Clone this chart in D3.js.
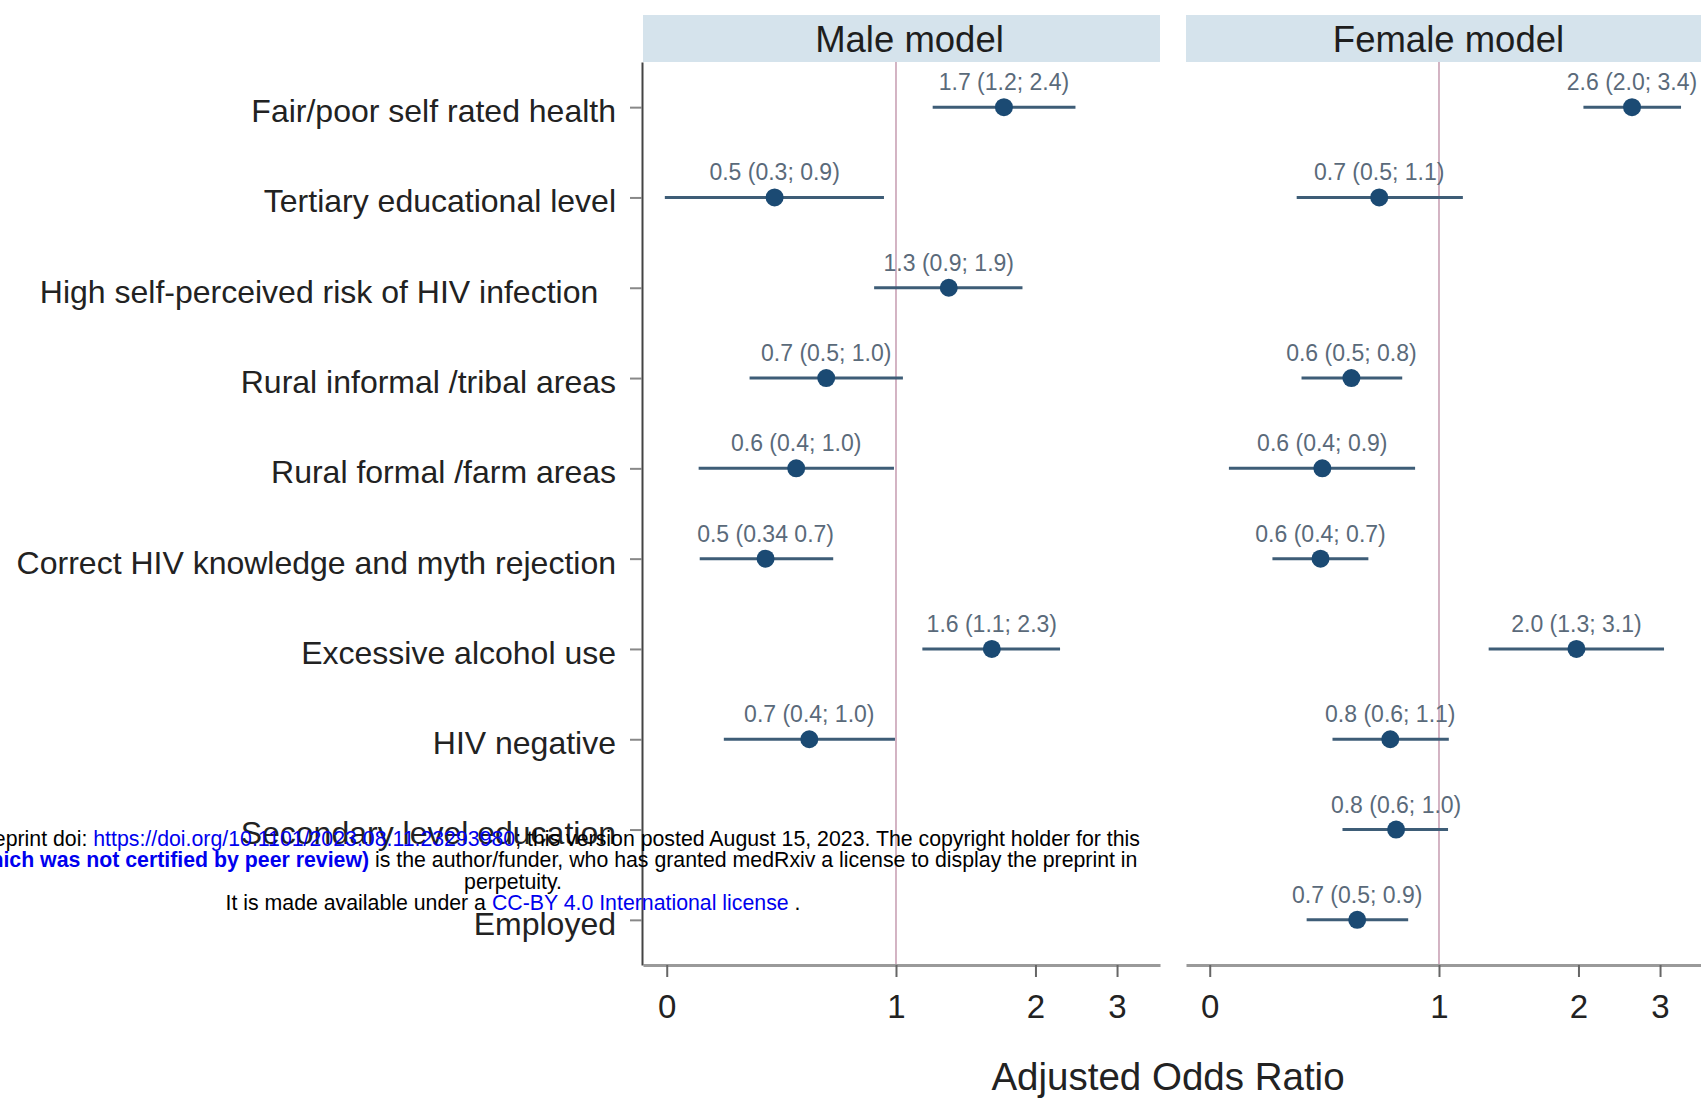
<!DOCTYPE html>
<html>
<head>
<meta charset="utf-8">
<script src="https://cdn.jsdelivr.net/npm/d3@7"></script>
<style>
  body { margin: 0; background: #fff; }
  svg { display: block; }
  text { font-family: "Liberation Sans", Arial, sans-serif; }
</style>
</head>
<body>
<div id="main"></div>
<script>
// rows, top to bottom
const categories = [
  "Fair/poor self rated health",
  "Tertiary educational level",
  "High self-perceived risk of HIV infection  ",
  "Rural informal /tribal areas",
  "Rural formal /farm areas",
  "Correct HIV knowledge and myth rejection",
  "Excessive alcohol use",
  "HIV negative",
  "Secondary level education",
  "Employed"
];

// male model (null = not in model)
const maleEst = [1.71, 0.547, 1.30, 0.707, 0.609, 0.523, 1.61, 0.65, null, null];
const maleLo  = [1.20, 0.317, 0.897, 0.483, 0.375, 0.377, 1.14, 0.425, null, null];
const maleHi  = [2.44, 0.942, 1.875, 1.035, 0.99, 0.732, 2.26, 0.995, null, null];
const maleLabels = ["1.7 (1.2; 2.4)", "0.5 (0.3; 0.9)", "1.3 (0.9; 1.9)", "0.7 (0.5; 1.0)",
  "0.6 (0.4; 1.0)", "0.5 (0.34 0.7)", "1.6 (1.1; 2.3)", "0.7 (0.4; 1.0)", null, null];

// female model
const femaleEst = [2.61, 0.743, null, 0.647, 0.56, 0.555, 1.98, 0.785, 0.808, 0.666];
const femaleLo  = [2.05, 0.493, null, 0.505, 0.352, 0.437, 1.28, 0.589, 0.619, 0.518];
const femaleHi  = [3.33, 1.126, null, 0.833, 0.888, 0.704, 3.06, 1.05, 1.046, 0.858];
const femaleLabels = ["2.6 (2.0; 3.4)", "0.7 (0.5; 1.1)", null, "0.6 (0.5; 0.8)",
  "0.6 (0.4; 0.9)", "0.6 (0.4; 0.7)", "2.0 (1.3; 3.1)", "0.8 (0.6; 1.1)", "0.8 (0.6; 1.0)", "0.7 (0.5; 0.9)"];

const panelNames = ["Male model", "Female model"];
const xTicks = [0.32, 1, 2, 3];
const xDomain = [0.2844, 3.714];

const watermark = [
  [{t: "medRxiv preprint doi: ", c: "#000"}, {t: "https://doi.org/10.1101/2023.08.11.23293980", c: "#0000ee"},
   {t: "; this version posted August 15, 2023. The copyright holder for this", c: "#000"}],
  [{t: "preprint ", c: "#000"}, {t: "(which was not certified by peer review)", c: "#0000ee", b: true},
   {t: " is the author/funder, who has granted medRxiv a license to display the preprint in", c: "#000"}],
  [{t: "perpetuity.", c: "#000"}],
  [{t: "It is made available under a ", c: "#000"}, {t: "CC-BY 4.0 International license", c: "#0000ee"}, {t: " .", c: "#000"}]
];

const width = 1701, height = 1101;
const plotTop = 62, plotBottom = 965, panelW = 517;
const panelX = [643, 1186];

const svg = d3.select("#main").append("svg").attr("width", width).attr("height", height);

const y = d3.scalePoint().domain(categories).range([plotTop, plotBottom]).padding(0.5);

const panels = [
  {name: panelNames[0], est: maleEst, lo: maleLo, hi: maleHi, labels: maleLabels, dx: 8},
  {name: panelNames[1], est: femaleEst, lo: femaleLo, hi: femaleHi, labels: femaleLabels, dx: 4}
];

panels.forEach(function(p, i) {
  const x0 = panelX[i];
  const x = d3.scaleLog().domain(xDomain).range([x0, x0 + panelW]);
  const g = svg.append("g");

  // strip header
  g.append("rect").attr("x", x0).attr("y", 15).attr("width", panelW).attr("height", plotTop - 15)
    .attr("fill", "#d5e3ec");
  g.append("text").attr("x", x0 + panelW / 2 + p.dx).attr("y", 52).attr("text-anchor", "middle")
    .attr("font-size", 36.5).attr("fill", "#1e1e1e").text(p.name);

  // reference line at 1
  g.append("line").attr("x1", x(1)).attr("x2", x(1)).attr("y1", plotTop).attr("y2", plotBottom)
    .attr("stroke", "#c9a2b5").attr("stroke-width", 1.6);

  // x axis
  const ax = g.append("g").attr("transform", "translate(0," + plotBottom + ")")
    .call(d3.axisBottom(x).tickValues(xTicks).tickFormat(d3.format(".0f"))
      .tickSize(12).tickSizeOuter(0).tickPadding(18));
  ax.select(".domain").attr("stroke", "#9a9a9a").attr("stroke-width", 3);
  ax.selectAll(".tick line").attr("stroke", "#666").attr("stroke-width", 2);
  ax.selectAll(".tick text").attr("font-size", 33).attr("fill", "#222")
    .attr("font-family", "'Liberation Sans', Arial, sans-serif");

  // rows
  const rows = categories.map(function(c, j) {
    return {c: c, est: p.est[j], lo: p.lo[j], hi: p.hi[j], label: p.labels[j]};
  }).filter(function(d) { return d.est != null; });

  const r = g.selectAll("g.row").data(rows).enter().append("g").attr("class", "row");
  r.append("line")
    .attr("x1", d => x(d.lo)).attr("x2", d => x(d.hi))
    .attr("y1", d => y(d.c)).attr("y2", d => y(d.c))
    .attr("stroke", "#3e5d77").attr("stroke-width", 3);
  r.append("circle")
    .attr("cx", d => x(d.est)).attr("cy", d => y(d.c)).attr("r", 9)
    .attr("fill", "#1b4a73");
  r.append("text")
    .attr("x", d => x(d.est)).attr("y", d => y(d.c) - 17)
    .attr("text-anchor", "middle").attr("font-size", 23).attr("fill", "#5a6a7a")
    .text(d => d.label);
});

// y axis on the male panel
const yAx = svg.append("g").attr("transform", "translate(" + (panelX[0] - 1) + ",0)")
  .call(d3.axisLeft(y).tickSize(12).tickSizeOuter(0).tickPadding(14));
yAx.select(".domain").attr("stroke", "#444").attr("stroke-width", 2);
yAx.selectAll(".tick line").attr("stroke", "#888").attr("stroke-width", 2);
yAx.selectAll(".tick text").attr("font-size", 32).attr("fill", "#222").attr("dy", "0.45em")
  .attr("font-family", "'Liberation Sans', Arial, sans-serif")
  .style("white-space", "pre");

// axis title
svg.append("text").attr("x", 1168).attr("y", 1090).attr("text-anchor", "middle")
  .attr("font-size", 38.5).attr("fill", "#222").text("Adjusted Odds Ratio");

// preprint watermark on top
const wm = svg.append("g");
watermark.forEach(function(line, i) {
  const t = wm.append("text").attr("x", 513).attr("y", 846 + i * 21.3)
    .attr("text-anchor", "middle").attr("font-size", 21.3).style("white-space", "pre");
  line.forEach(function(s) {
    t.append("tspan").attr("fill", s.c).attr("font-weight", s.b ? "bold" : "normal").text(s.t);
  });
});
</script>
</body>
</html>
